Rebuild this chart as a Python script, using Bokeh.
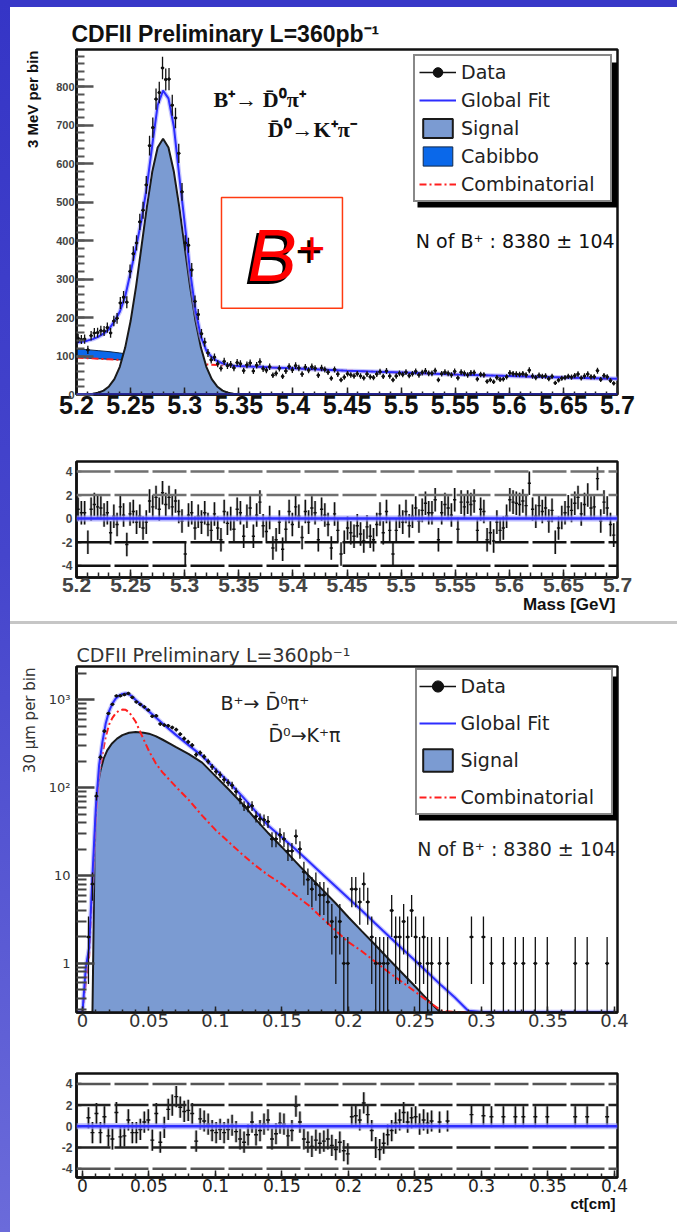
import numpy as np
from bokeh.plotting import figure
from bokeh.models import (Range1d, FixedTicker, CustomJSTickFormatter, Legend, LegendItem,
                          BoxAnnotation, Label, Span, Div, Title)
from bokeh.layouts import column, row
from bokeh.embed import file_html
from bokeh.resources import INLINE

# ============================ DATA ============================
# ---- B+ invariant mass (3 MeV bins starting at 5.2 GeV) ----
MASS_LO, MASS_BIN = 5.2, 0.003
mass_counts = [146, 143, 144, 116, 153, 160, 161, 166, 165, 174,
               160, 191, 198, 238, 253, 240, 320, 366, 394, 449,
               479, 545, 647, 694, 768, 785, 849, 819, 820, 752,
               719, 627, 527, 394, 388, 324, 242, 208, 158, 136,
               108, 90, 97, 80, 68, 86, 75, 78, 69, 83,
               80, 62, 77, 82, 61, 76, 85, 67, 63, 72,
               50, 55, 68, 47, 61, 73, 64, 75, 69, 53,
               71, 63, 72, 68, 50, 69, 65, 58, 42, 65,
               53, 38, 45, 54, 51, 48, 54, 48, 43, 53,
               46, 44, 53, 59, 47, 61, 48, 38, 48, 55,
               52, 58, 49, 54, 60, 51, 57, 61, 55, 55,
               62, 38, 54, 58, 55, 51, 60, 43, 58, 55,
               51, 56, 57, 40, 52, 51, 34, 38, 33, 44,
               39, 40, 46, 56, 54, 53, 52, 54, 51, 63,
               48, 44, 50, 47, 48, 41, 47, 30, 37, 42,
               44, 47, 45, 49, 53, 43, 48, 53, 46, 46,
               62, 39, 49, 46, 36, 29]
mass_pulls = [0.8, 0.5, 0.5, -2.0, 0.8, 1.2, 1.0, 0.9, 0.3, 0.5,
              -1.2, 0.2, -0.5, 1.0, 0.3, -2.2, 0.4, 0.6, -0.3, 0.2,
              -0.8, -0.3, 1.5, 1.0, 1.8, 0.8, 2.2, 1.2, 1.8, 1.0,
              1.5, 0.6, -0.2, -3.0, 0.3, 0.5, -0.8, 0.2, -0.3, 0.5,
              -0.5, -1.0, 0.4, -0.8, -1.8, 0.6, -0.4, 0.0, -0.9, 0.8,
              0.5, -1.5, 0.2, 0.9, -1.5, 0.3, 1.4, -0.6, -1.1, 0.1,
              -2.5, -1.8, -0.3, -2.6, -0.9, 0.6, -0.5, 1.0, 0.2, -1.6,
              0.6, -0.3, 0.9, 0.5, -1.8, 0.8, 0.3, -0.5, -2.5, 0.4,
              -1.0, -3.0, -2.0, -0.8, -1.2, -1.5, -0.6, -1.3, -1.9, -0.7,
              -1.5, -1.8, -0.5, 0.4, -1.2, 0.6, -1.0, -3.0, -1.0, 0.2,
              -0.3, 0.6, -0.6, 0.2, 0.9, -0.2, 0.7, 1.3, 0.5, 0.5,
              1.6, -1.8, 0.5, 1.2, 0.9, 0.3, 1.6, -0.9, 1.4, 1.0,
              1.4, 1.2, 1.5, -1.0, 0.8, 0.6, -1.8, -1.2, -1.9, -0.3,
              -1.0, -0.8, 0.2, 1.6, 1.4, 1.3, 1.2, 1.5, 1.1, 3.0,
              0.8, 0.2, 1.1, 0.6, 0.9, -0.2, 0.7, -2.0, -0.8, 0.1,
              0.5, 1.0, 0.7, 1.3, 1.8, 0.4, 1.2, 2.0, 0.9, 1.0,
              3.4, -0.2, 1.4, 0.9, -0.5, -1.4]
mass_fit_x = [5.200, 5.205, 5.210, 5.215, 5.220, 5.225, 5.230, 5.235, 5.240, 5.245,
              5.250, 5.255, 5.260, 5.265, 5.270, 5.275, 5.280, 5.285, 5.290, 5.295,
              5.300, 5.305, 5.310, 5.315, 5.320, 5.325, 5.330, 5.335, 5.340, 5.345,
              5.350, 5.355, 5.360, 5.37, 5.38, 5.40, 5.45, 5.50, 5.55, 5.60, 5.65, 5.70]
mass_fit = [135, 137, 140, 144, 150, 158, 170, 190, 215, 255,
            318, 382, 452, 540, 648, 752, 790, 770, 696, 568,
            445, 320, 218, 150, 114, 97, 87, 81, 77, 75,
            74, 73.5, 73, 72, 70.5, 68, 62, 57, 52, 48, 44, 41]
mass_signal_x = [5.200, 5.205, 5.210, 5.215, 5.220, 5.225, 5.230, 5.235, 5.240, 5.245,
                 5.250, 5.255, 5.260, 5.265, 5.270, 5.275, 5.280, 5.285, 5.290, 5.295,
                 5.300, 5.305, 5.310, 5.315, 5.320, 5.325, 5.330, 5.335, 5.340, 5.345,
                 5.350, 5.355, 5.360]
mass_signal = [0.1, 0.3, 0.8, 1.9, 4.5, 10, 21, 40, 72, 122,
               191, 280, 383, 487, 579, 642, 665, 642, 579, 487,
               383, 280, 191, 122, 72, 40, 21, 10, 4.5, 1.9,
               0.8, 0.3, 0.1]
mass_comb_x = [5.20, 5.21, 5.22, 5.23, 5.24, 5.25, 5.26, 5.27, 5.28, 5.29, 5.30,
               5.35, 5.40, 5.45, 5.50, 5.55, 5.60, 5.65, 5.70]
mass_comb = [96, 94.5, 93, 91.5, 90, 88.5, 87, 85.5, 84, 82.5, 81,
             74, 68, 62, 57, 52, 48, 44, 40]
mass_cabibbo = [22, 22, 21, 20, 18, 15, 12, 9, 6, 3, 1]   # on mass_comb_x[:11]
mass_xticks = [5.2, 5.25, 5.3, 5.35, 5.4, 5.45, 5.5, 5.55, 5.6, 5.65, 5.7]
mass_yticks = [0, 100, 200, 300, 400, 500, 600, 700, 800]
resid_yticks = [-4, -2, 0, 2, 4]
resid_levels = [4, 2, -2, -4]

# ---- B+ proper decay length ct (30 um bins starting at 0) ----
CT_LO, CT_BIN = 0.0, 0.003
ct_counts = [0, 2, 8, 80, 221, 438, 696, 884, 1102, 1106,
             1139, 1175, 1060, 941, 881, 826, 761, 646, 655, 529,
             513, 505, 482, 456, 405, 361, 331, 303, 237, 249,
             225, 198, 172, 152, 140, 123, 114, 106, 90, 73,
             62, 60, 62, 47, 44, 43, 41, 26, 26, 29,
             26, 19, 19, 28, 20, 11, 9, 7, 8, 6,
             6, 5, 3, 2, 3, 1, 1, 7, 7, 5,
             8, 5, 2, 1, 1, 1, 1, 4, 2, 2,
             3, 2, 4, 2, 1, 2, 1, 1, 0, 1,
             0, 1, 0, 0, 0, 0, 0, 2, 0, 0,
             2, 0, 1, 0, 0, 1, 0, 0, 1, 0,
             1, 0, 0, 1, 0, 0, 1, 0, 0, 0,
             0, 0, 0, 1, 0, 0, 1, 0, 0, 0,
             0, 1, 0, 0]
ct_pulls = [None, 0.8, -0.6, 1.2, -0.6, 0.9, -0.9, -1.2, 1.3, -1.0,
            -0.9, 0.6, -0.6, -0.6, -0.3, 0.4, 0.6, -1.3, 1.2, -1.5,
            -0.1, 1.6, 2.0, 2.8, 1.8, 1.4, 1.5, 1.2, -1.4, 0.7,
            0.5, 0.2, -0.4, -0.6, -0.3, -0.6, -0.3, 0.1, -0.5, -1.2,
            -1.5, -0.8, 0.4, -0.8, -0.4, 0.2, 0.6, -1.2, -0.7, 0.3,
            0.2, -0.9, -0.4, 1.9, 0.4, -1.2, -1.5, -1.9, -1.3, -1.6,
            -1.4, -1.2, -1.8, -2.2, -1.5, -2.3, -2.6, 0.9, 1.0, 0.6,
            2.2, 1.1, -0.4, -2.0, -2.2, -1.6, -0.8, -0.4, 0.3, 0.6,
            1.3, 0.4, 0.8, 0.9, 0.2, 0.6, 0.3, 0.5, None, 0.4,
            None, 0.5, None, None, None, None, None, 1.1, None, None,
            1.0, None, 0.9, None, None, 0.9, None, None, 0.9, None,
            0.9, None, None, 0.9, None, None, 0.9, None, None, None,
            None, None, None, 0.9, None, None, 0.9, None, None, None,
            None, 0.9, None, None]
ct_curve_x = [-0.0045, 0.0, 0.0025, 0.005, 0.0075, 0.01, 0.0125, 0.015, 0.0175, 0.02,
              0.0225, 0.025, 0.0275, 0.03, 0.0325, 0.035, 0.0375, 0.04, 0.045, 0.05,
              0.055, 0.06, 0.07, 0.08, 0.09, 0.10, 0.11, 0.12, 0.13, 0.14,
              0.15, 0.16, 0.17, 0.18, 0.19, 0.20, 0.21, 0.22, 0.23, 0.24,
              0.25, 0.26, 0.27, 0.28, 0.29, 0.30, 0.35, 0.40]
ct_fit = [0.28, 0.28, 0.9, 1.5, 10, 58, 180, 330, 540, 740,
          900, 1030, 1110, 1160, 1175, 1150, 1080, 990, 850, 735,
          630, 540, 400, 302, 228, 162, 115, 80, 54, 36.5,
          27, 20, 14.5, 10.5, 7.6, 5.5, 4.0, 2.86, 2.07, 1.49,
          1.08, 0.78, 0.56, 0.41, 0.29, 0.28, 0.28, 0.28]
ct_comb = [0.28, 0.28, 0.6, 1.2, 8, 45, 140, 240, 380, 520,
           620, 700, 750, 770, 765, 720, 640, 560, 380, 260,
           190, 150, 103, 72, 48, 33, 24, 17.5, 13, 10,
           8, 6, 4.6, 3.3, 2.4, 1.75, 1.38, 1.05, 0.8, 0.62,
           0.48, 0.37, 0.29, 0.28, 0.28, 0.28, 0.28, 0.28]
ct_signal_x = [0.0075, 0.008, 0.009, 0.0105, 0.012, 0.0135, 0.016, 0.0186, 0.022, 0.026,
               0.03, 0.035, 0.04, 0.046, 0.05, 0.055, 0.06, 0.066, 0.07, 0.08,
               0.09, 0.10, 0.11, 0.12, 0.13, 0.14, 0.15, 0.16, 0.17, 0.18,
               0.19, 0.20, 0.21, 0.22, 0.23, 0.24, 0.25, 0.26, 0.265, 0.27]
ct_signal = [0.28, 1.0, 15, 71, 115, 156, 215, 265, 315, 360,
             395, 420, 428, 420, 410, 385, 352, 314, 290, 240,
             192, 135, 95, 66, 44, 30, 21, 14.5, 10, 7,
             4.9, 3.35, 2.33, 1.63, 1.13, 0.79, 0.55, 0.38, 0.32, 0.27]
ct_xticks = [0, 0.05, 0.1, 0.15, 0.2, 0.25, 0.3, 0.35, 0.4]
ct_yticks = [1, 10, 100, 1000]
ct_ylabels = ["1", "10", "10\u00b2", "10\u00b3"]

legend_mass = ["Data", "Global Fit", "Signal", "Cabibbo", "Combinatorial"]
legend_ct = ["Data", "Global Fit", "Signal", "Combinatorial"]

# ============================ STYLE / LAYOUT ============================
W, BL, BR = 667, 66, 60
FW = W - BL - BR
H1, T1, B1 = 421, 42, 34
H2, T2, B2 = 193, 33, 44
H3, T3, B3 = 416, 42, 28
H4, T4, B4 = 192, 33, 55

SANS, SANS2, SERIF = "Liberation Sans", "DejaVu Sans", "Liberation Serif"
SIG_FILL = "#7b9bd2"
FIT_BLUE = "#2d2dff"
RED = "#ff1e1e"
CAB_BLUE = "#0a68ea"

num_fmt = CustomJSTickFormatter(code="return String(Number(tick.toFixed(3)));")


def make_fig(h, top, bottom, xr, yr, ytype="linear"):
    p = figure(width=W, height=h, x_range=xr, y_range=yr, y_axis_type=ytype,
               output_backend="svg", toolbar_location=None,
               min_border_left=BL, min_border_right=BR,
               min_border_top=top, min_border_bottom=bottom)
    p.xgrid.visible = False
    p.ygrid.visible = False
    p.outline_line_color = "#111111"
    p.outline_line_width = 2.5
    p.background_fill_color = "white"
    p.border_fill_color = "white"
    for ax in (p.xaxis[0], p.yaxis[0]):
        ax.axis_line_color = "#111111"
        ax.axis_line_width = 2.5
        ax.major_tick_out = 0
        ax.minor_tick_out = 0
        ax.major_tick_line_color = "#222222"
        ax.minor_tick_line_color = "#222222"
        ax.major_tick_line_width = 1.5
        ax.minor_tick_line_width = 1.5
    return p


def set_title(p, text, size, font, style, color, offset, standoff):
    p.title.text = text
    p.title.align = "left"
    p.title.offset = offset
    p.title.standoff = standoff
    p.title.text_font = font
    p.title.text_font_size = f"{size}px"
    p.title.text_font_style = style
    p.title.text_color = color


def side_title(p, side, text, size, font, style, color, align, valign, standoff, offset):
    p.add_layout(Title(text=text, align=align, vertical_align=valign, standoff=standoff,
                       offset=offset, text_font=font, text_font_size=f"{size}px",
                       text_font_style=style, text_color=color), side)


def dlabel(p, x, y, text, size, font=SANS, style="normal", color="#111111"):
    p.add_layout(Label(x=x, y=y, text=text, text_font=font, text_font_size=f"{size}px",
                       text_font_style=style, text_color=color, text_align="left",
                       text_baseline="middle"))


def add_legend(p, items, x, y, w_label, pad, gh, spacing):
    h = 2 * pad + len(items) * gh + (len(items) - 1) * spacing
    w = 2 * pad + 37 + 5 + w_label
    p.add_layout(BoxAnnotation(left=x + 4, right=x + w + 10, bottom=y - 5, top=y + h - 4,
                               left_units="screen", right_units="screen",
                               bottom_units="screen", top_units="screen",
                               fill_color="#000000", fill_alpha=1.0, line_color=None))
    leg = Legend(items=items, location=(x, y), padding=pad, spacing=spacing,
                 glyph_width=37, glyph_height=gh, label_height=gh, label_width=w_label,
                 label_standoff=5, label_text_font=SANS2, label_text_font_size="19px",
                 label_text_color="#222222", border_line_color="#111111",
                 border_line_width=2, background_fill_color="white", background_fill_alpha=1.0,
                 margin=0)
    p.add_layout(leg)


def residual_panel(p, xs, pulls, binw, level_colors):
    for lv, col in zip(resid_levels, level_colors):
        p.add_layout(Span(location=lv, dimension="width", line_color=col,
                          line_width=2.5, line_dash="34 4"))
    pull = np.array(pulls, dtype=float)
    xs = np.array(xs, dtype=float)
    p.rect(xs, pull, width=binw * 0.8, height=2.0, fill_color="#909090",
           fill_alpha=0.55, line_color=None)
    p.add_layout(Span(location=0, dimension="width", line_color="#9a9aff",
                      line_width=6, line_alpha=0.7))
    p.add_layout(Span(location=0, dimension="width", line_color=FIT_BLUE, line_width=2.5))
    p.segment(xs, pull - 1, xs, pull + 1, line_color="#111111", line_width=1.4)
    p.segment(xs - binw / 2, pull, xs + binw / 2, pull, line_color="#111111", line_width=1.4)
    p.yaxis.ticker = FixedTicker(ticks=resid_yticks, minor_ticks=[])
    p.yaxis.formatter = num_fmt
    p.yaxis.major_tick_in = 5
    p.yaxis.major_label_standoff = 4


# ============================ FIGURE 1: mass ============================
p1 = make_fig(H1, T1, B1, Range1d(5.2, 5.7), Range1d(0, 897))
mx = MASS_LO + MASS_BIN * (np.arange(len(mass_counts)) + 0.5)
mc = np.array(mass_counts, dtype=float)
me = np.sqrt(mc)

ncab = len(mass_cabibbo)
cab_x = mass_comb_x[:ncab]
cab_lo = mass_comb[:ncab]
cab_hi = [a + b for a, b in zip(cab_lo, mass_cabibbo)]
r_cab = p1.patch(cab_x + cab_x[::-1], cab_hi + cab_lo[::-1], fill_color=CAB_BLUE,
                 line_color="#10284a", line_width=1)
r_comb = p1.line(mass_comb_x, mass_comb, line_color=RED, line_width=2, line_dash="7 3 2 3")
r_sig = p1.patch([mass_signal_x[0]] + mass_signal_x + [mass_signal_x[-1]],
                 [0] + mass_signal + [0], fill_color=SIG_FILL, line_color="#1a1a1a", line_width=2)
p1.line(mass_fit_x, mass_fit, line_color="#a0a0ff", line_width=4.5, line_alpha=0.6)
r_fit = p1.line(mass_fit_x, mass_fit, line_color=FIT_BLUE, line_width=2)
p1.add_layout(Span(location=0, dimension="width", line_color=FIT_BLUE, line_width=2))
p1.segment(mx, mc - me, mx, mc + me, line_color="#111111", line_width=1.3)
r_dh = p1.segment(mx - MASS_BIN / 2, mc, mx + MASS_BIN / 2, mc, line_color="#111111", line_width=1.3)
r_dp = p1.scatter(mx, mc, size=2.5, color="#111111")

p1.xaxis.ticker = FixedTicker(ticks=mass_xticks, minor_ticks=list(np.round(np.arange(5.2, 5.7001, 0.01), 3)))
p1.xaxis.formatter = num_fmt
p1.xaxis.major_label_text_font = SANS
p1.xaxis.major_label_text_font_style = "bold"
p1.xaxis.major_label_text_font_size = "25px"
p1.xaxis.major_label_text_color = "#111111"
p1.xaxis.major_label_standoff = 1
p1.xaxis.major_tick_in = 7
p1.xaxis.minor_tick_in = 3
p1.yaxis.ticker = FixedTicker(ticks=mass_yticks, minor_ticks=list(range(0, 900, 20)))
p1.yaxis.formatter = num_fmt
p1.yaxis.major_label_text_font = SANS
p1.yaxis.major_label_text_font_style = "bold"
p1.yaxis.major_label_text_font_size = "11px"
p1.yaxis.major_label_standoff = 2
p1.yaxis.major_tick_in = 17
p1.yaxis.minor_tick_in = 8
p1.yaxis.major_tick_line_width = 2.5
p1.yaxis.minor_tick_line_width = 2
p1.yaxis.major_tick_line_color = "#555555"
p1.yaxis.minor_tick_line_color = "#555555"

set_title(p1, "CDFII Preliminary L=360pb\u207b\u00b9", 23, SANS, "bold", "#111111", -5, 5)
side_title(p1, "left", "3 MeV per bin", 15, SANS, "bold", "#111111", "right", "middle", 24, 1)
p1.add_layout(Label(x=5.3267, y=767, text="B\u207a\u2192 D\u0304\u2070\u03c0\u207a", text_font=SERIF,
                    text_font_size="22px", text_font_style="bold", text_color="#111111",
                    text_baseline="middle"))
p1.add_layout(Label(x=5.3767, y=689, text="D\u0304\u2070\u2192K\u207a\u03c0\u207b", text_font=SERIF,
                    text_font_size="22px", text_font_style="bold", text_color="#111111",
                    text_baseline="middle"))
dlabel(p1, 5.5136, 400, "N of B\u207a : 8380 \u00b1 104", 19, font=SANS2)
p1.add_layout(BoxAnnotation(left=5.334, right=5.4458, bottom=224, top=512, fill_color=None,
                            fill_alpha=0, line_color="#ff3a10", line_alpha=1.0, line_width=1.5))
for col, dx, dy in (("#000000", -3, -3), ("#ff0000", 0, 0)):
    p1.add_layout(Label(x=5.358, y=361, text="B", text_font=SANS, text_font_style="italic",
                        text_font_size="74px", text_color=col, x_offset=dx, y_offset=dy,
                        text_baseline="middle"))
    p1.add_layout(Label(x=5.4052, y=382, text="+", text_font=SANS, text_font_size="46px",
                        text_color=col, x_offset=dx, y_offset=dy, text_baseline="middle"))

items1 = [LegendItem(label=legend_mass[0], renderers=[r_dh, r_dp]),
          LegendItem(label=legend_mass[1], renderers=[r_fit]),
          LegendItem(label=legend_mass[2], renderers=[r_sig]),
          LegendItem(label=legend_mass[3], renderers=[r_cab]),
          LegendItem(label=legend_mass[4], renderers=[r_comb])]
add_legend(p1, items1, 337, 192, 145, 4, 24, 4)

# ============================ FIGURE 2: mass residual ============================
p2 = make_fig(H2, T2, B2, Range1d(5.2, 5.7), Range1d(-5.0, 4.85))
residual_panel(p2, mx, mass_pulls, MASS_BIN, ["#707070", "#707070", "#111111", "#111111"])
p2.xaxis.ticker = FixedTicker(ticks=mass_xticks, minor_ticks=list(np.round(np.arange(5.2, 5.7001, 0.01), 3)))
p2.xaxis.formatter = num_fmt
p2.xaxis.major_label_text_font = SANS
p2.xaxis.major_label_text_font_style = "bold"
p2.xaxis.major_label_text_font_size = "21px"
p2.xaxis.major_label_standoff = 0
p2.xaxis.major_tick_in = 8
p2.xaxis.minor_tick_in = 5
p2.yaxis.major_label_text_font = SANS
p2.yaxis.major_label_text_font_style = "bold"
p2.yaxis.major_label_text_font_size = "12px"
side_title(p2, "below", "Mass [GeV]", 17, SANS, "bold", "#111111", "right", "top", 0, 2)

# ============================ FIGURE 3: ct ============================
p3 = make_fig(H3, T3, B3, Range1d(-0.0045, 0.4023), Range1d(0.277, 2380), ytype="log")
cx = CT_LO + CT_BIN * (np.arange(len(ct_counts)) + 0.5)
cc = np.array(ct_counts, dtype=float)
keep = cc > 0
cxk, cck = cx[keep], cc[keep]
cek = np.sqrt(cck)
BASE = 0.2
r_sig3 = p3.patch([ct_signal_x[0]] + ct_signal_x + [ct_signal_x[-1]],
                  [BASE] + ct_signal + [BASE], fill_color=SIG_FILL, line_color="#1a1a1a",
                  line_width=2)
r_comb3 = p3.line(ct_curve_x, ct_comb, line_color=RED, line_width=2, line_dash="7 3 2 3")
p3.line(ct_curve_x, ct_fit, line_color="#a0a0ff", line_width=4.5, line_alpha=0.6)
r_fit3 = p3.line(ct_curve_x, ct_fit, line_color=FIT_BLUE, line_width=2)
p3.segment(cxk, np.maximum(cck - cek, BASE), cxk, cck + cek, line_color="#111111", line_width=1.3)
r_dh3 = p3.segment(cxk - CT_BIN / 2, cck, cxk + CT_BIN / 2, cck, line_color="#111111", line_width=1.3)
r_dp3 = p3.scatter(cxk, cck, size=2.5, color="#111111")

p3.xaxis.ticker = FixedTicker(ticks=ct_xticks, minor_ticks=list(np.round(np.arange(0, 0.4001, 0.01), 3)))
p3.xaxis.formatter = num_fmt
p3.xaxis.major_label_text_font = SANS2
p3.xaxis.major_label_text_font_size = "18px"
p3.xaxis.major_label_text_color = "#333333"
p3.xaxis.major_label_standoff = 1
p3.xaxis.major_tick_in = 6
p3.xaxis.minor_tick_in = 3
log_minor = [m * 10.0 ** e for e in range(-1, 4) for m in range(2, 10) if 0.277 < m * 10.0 ** e < 2380]
p3.yaxis.ticker = FixedTicker(ticks=ct_yticks, minor_ticks=log_minor)
p3.yaxis.formatter = CustomJSTickFormatter(args=dict(t=ct_yticks, l=ct_ylabels),
                                           code="const i = t.indexOf(tick); return i >= 0 ? l[i] : '';")
p3.yaxis.major_label_text_font = SANS2
p3.yaxis.major_label_text_font_size = "13px"
p3.yaxis.major_label_text_color = "#333333"
p3.yaxis.major_label_standoff = 6
p3.yaxis.major_tick_in = 18
p3.yaxis.minor_tick_in = 10
p3.yaxis.major_tick_line_width = 2.5
p3.yaxis.minor_tick_line_width = 2
p3.yaxis.major_tick_line_color = "#444444"
p3.yaxis.minor_tick_line_color = "#444444"

set_title(p3, "CDFII Preliminary L=360pb\u207b\u00b9", 19, SANS2, "normal", "#333333", 0, 2)
side_title(p3, "left", "30 \u03bcm per bin", 15, SANS2, "normal", "#333333", "right", "middle", 11, 1)
dlabel(p3, 0.1038, 908, "B\u207a\u2192 D\u0304\u2070\u03c0\u207a", 19, font=SANS2, color="#222222")
dlabel(p3, 0.1398, 392, "D\u0304\u2070\u2192K\u207a\u03c0", 19, font=SANS2, color="#222222")
dlabel(p3, 0.2517, 20.2, "N of B\u207a : 8380 \u00b1 104", 19, font=SANS2, color="#222222")
items3 = [LegendItem(label=legend_ct[0], renderers=[r_dh3, r_dp3]),
          LegendItem(label=legend_ct[1], renderers=[r_fit3]),
          LegendItem(label=legend_ct[2], renderers=[r_sig3]),
          LegendItem(label=legend_ct[3], renderers=[r_comb3])]
add_legend(p3, items3, 338.5, 197, 148, 2, 28, 9)

# ============================ FIGURE 4: ct residual ============================
p4 = make_fig(H4, T4, B4, Range1d(-0.0045, 0.4023), Range1d(-4.83, 4.98))
rk = [i for i, v in enumerate(ct_pulls) if v is not None]
residual_panel(p4, cx[rk], [ct_pulls[i] for i in rk], CT_BIN,
               ["#555555", "#222222", "#222222", "#555555"])
p4.xaxis.ticker = FixedTicker(ticks=ct_xticks, minor_ticks=list(np.round(np.arange(0, 0.4001, 0.01), 3)))
p4.xaxis.formatter = num_fmt
p4.xaxis.major_label_text_font = SANS2
p4.xaxis.major_label_text_font_size = "17px"
p4.xaxis.major_label_text_color = "#222222"
p4.xaxis.major_label_standoff = 1
p4.xaxis.major_tick_in = 7
p4.xaxis.minor_tick_in = 4
p4.yaxis.major_label_text_font = SANS
p4.yaxis.major_label_text_font_style = "bold"
p4.yaxis.major_label_text_font_size = "12px"
side_title(p4, "below", "ct[cm]", 15, SANS, "bold", "#111111", "right", "top", 0, 2)

# ============================ PAGE ============================
left_strip = Div(text="", width=10, height=1232, margin=(0, 0, 0, 0),
                 styles={"background": "linear-gradient(to bottom, #3535c6 0%, #4545cc 45%, #6b6bda 100%)"})
top_strip = Div(text="", width=W, height=7, margin=(0, 0, 0, 0), styles={"background": "#3838c8"})
sep = Div(text="", width=W, height=3, margin=(0, 0, 0, 0), styles={"background": "#c6c6c6"})
layout = row(left_strip, column(top_strip, p1, p2, sep, p3, p4, spacing=0), spacing=0)

open("out.html", "w").write(file_html(layout, INLINE, title="B+ mass and ct fit"))
